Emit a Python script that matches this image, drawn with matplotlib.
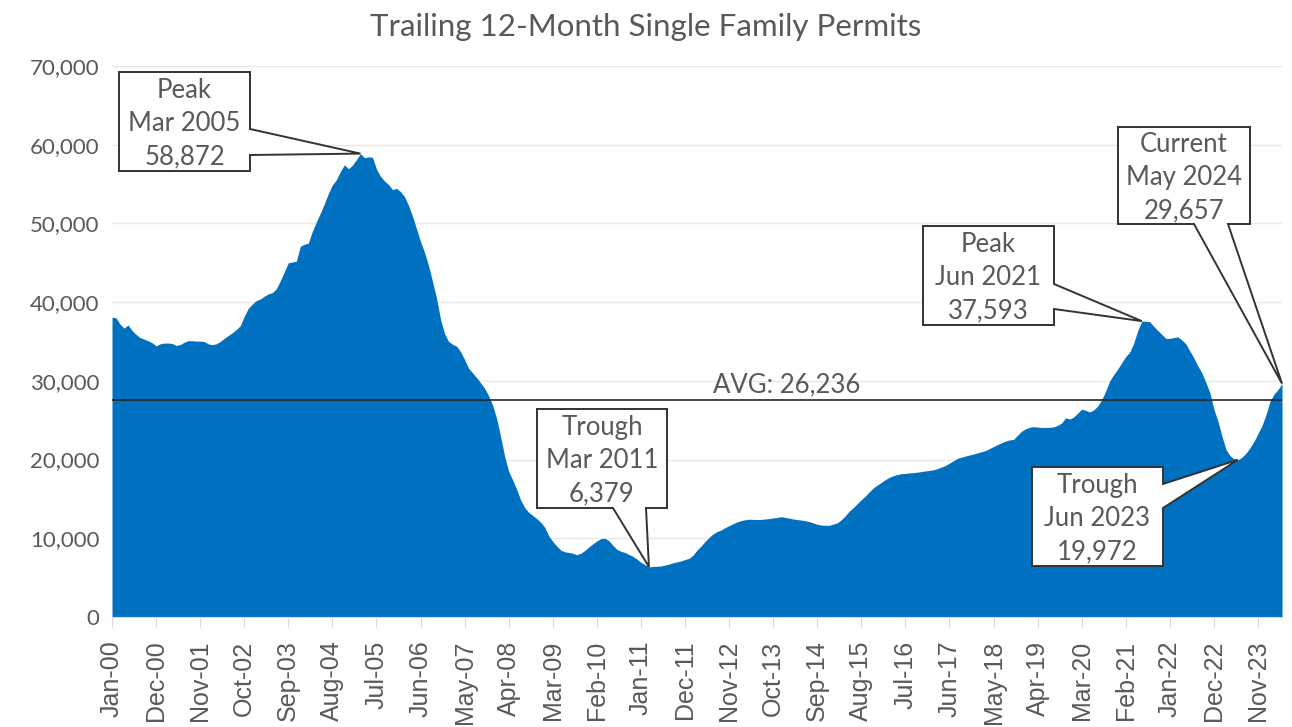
import numpy as np
import pandas as pd
import matplotlib
matplotlib.use("Agg")
import matplotlib.pyplot as plt
from matplotlib.patches import Polygon
from matplotlib.transforms import IdentityTransform
from matplotlib.ticker import FuncFormatter

# Monthly trailing 12-month single family permits, Jan 2000 - May 2024
months = pd.date_range("2000-01-01", "2024-05-01", freq="MS")
permits = [
    38100, 38000, 37200, 36700, 37100, 36400, 35900, 35500, 35300, 35100, 34850, 34450,  # 2000
    34700, 34800, 34800, 34750, 34500, 34600, 34900, 35100, 35100, 35050, 35050, 35000,  # 2001
    34700, 34600, 34700, 35000, 35400, 35750, 36100, 36500, 37000, 38200, 39200, 39750,  # 2002
    40200, 40400, 40750, 41050, 41200, 41700, 42700, 43850, 45000, 45100, 45200, 47100,  # 2003
    47350, 47500, 49000, 50200, 51300, 52500, 53800, 54900, 55550, 56600, 57450, 56950,  # 2004
    57400, 58100, 58872, 58350, 58450, 58400, 56900, 56000, 55400, 54950, 54300, 54450,  # 2005
    54050, 53400, 52300, 50900, 49300, 47700, 46300, 44650, 42600, 40500, 37800, 36000,  # 2006
    35000, 34650, 34400, 33700, 32700, 31600, 31000, 30400, 29750, 29050, 28100, 26900,  # 2007
    25200, 22900, 20400, 18500, 17400, 16200, 14850, 13900, 13300, 12900, 12500, 12030,  # 2008
    11400, 10300, 9600, 9000, 8500, 8280, 8200, 8100, 7900, 8100, 8450, 8900,  # 2009
    9300, 9650, 9950, 10000, 9700, 9100, 8600, 8350, 8200, 7950, 7700, 7350,  # 2010
    6950, 6650, 6379, 6420, 6450, 6480, 6600, 6720, 6880, 7000, 7120, 7300,  # 2011
    7450, 7850, 8500, 9000, 9600, 10100, 10550, 10850, 11050, 11350, 11600, 11850,  # 2012
    12080, 12250, 12350, 12420, 12400, 12380, 12400, 12450, 12500, 12580, 12650, 12740,  # 2013
    12650, 12560, 12450, 12380, 12320, 12230, 12120, 11950, 11780, 11680, 11650, 11640,  # 2014
    11800, 11950, 12350, 12850, 13450, 13900, 14400, 14900, 15350, 15900, 16400, 16750,  # 2015
    17100, 17450, 17750, 17950, 18100, 18200, 18250, 18300, 18350, 18400, 18480, 18550,  # 2016
    18620, 18700, 18850, 19050, 19250, 19550, 19850, 20150, 20300, 20450, 20580, 20700,  # 2017
    20850, 21000, 21150, 21400, 21650, 21900, 22140, 22350, 22500, 22560, 23100, 23600,  # 2018
    23900, 24100, 24180, 24120, 24080, 24080, 24100, 24150, 24350, 24650, 25300, 25150,  # 2019
    25400, 25900, 26400, 26250, 26050, 26300, 26800, 27600, 28700, 30000, 30800, 31500,  # 2020
    32300, 33100, 33650, 34800, 36400, 37593, 37560, 37530, 36900, 36400, 35900, 35400,  # 2021
    35400, 35500, 35580, 35200, 34700, 33800, 32900, 31900, 31000, 29800, 28500, 26400,  # 2022
    24900, 23000, 21300, 20500, 20100, 19972, 20300, 20800, 21500, 22300, 23300, 24300,  # 2023
    25700, 27400, 28300, 28900, 29657,  # 2024
]

avg_level = 27600
avg_label = "AVG: 26,236"
tick_step = 11

# callouts: (kind, month, box left/top/right/bottom in px, side, wedge base a, b)
callouts = [
    ("Peak", "2005-03", (119, 72, 250, 171), "right", 129, 155),
    ("Trough", "2011-03", (537, 409, 667, 508), "bottom", 613, 646),
    ("Peak", "2021-06", (923, 226, 1054, 325), "right", 284, 309),
    ("Current", "2024-05", (1118, 127, 1250, 224), "bottom", 1194, 1228),
    ("Trough", "2023-06", (1032, 467, 1163, 566), "right", 484, 508),
]

W, H = 1292, 727
GRAY = "#595959"
x = np.arange(len(months))

fig = plt.figure(figsize=(W / 100, H / 100), dpi=100)
ax = fig.add_axes([112 / W, 1 - 617 / H, (1282 - 112) / W, (617 - 66) / H])

ax.fill_between(x, permits, color="#0070C0", lw=0, zorder=2)
ax.set_xlim(0, len(x) - 1)
ax.set_ylim(0, 70000)
ax.set_yticks(np.arange(0, 70001, 10000))
ax.yaxis.set_major_formatter(FuncFormatter(lambda v, p: f"{v:,.0f}"))
ax.grid(axis="y", color="#e8e8e8", lw=1, zorder=0)
ax.set_axisbelow(True)
for s in ["top", "left", "right"]:
    ax.spines[s].set_visible(False)
ax.spines["bottom"].set_color("#d9d9d9")

ax.set_xticks(x[::tick_step])
ax.set_xticklabels(months[::tick_step].strftime("%b-%y"), rotation=90,
                   fontfamily="Liberation Sans", fontsize=18, color=GRAY)
ax.tick_params(axis="x", length=7, color="#d9d9d9", pad=10)
ax.tick_params(axis="y", length=0, pad=9, labelsize=16, labelcolor=GRAY)
for lab in ax.get_yticklabels():
    lab.set_fontfamily("Lato")

ax.axhline(avg_level, color="#262626", lw=1.2, zorder=3)
ax.text((787 - 112) / 1170, avg_level + 250, avg_label, transform=ax.get_yaxis_transform(),
        ha="center", va="bottom", fontsize=18.5, color=GRAY, fontfamily="Lato")

fig.text(0.5, 1 - 27 / H, "Trailing 12-Month Single Family Permits", ha="center", va="center",
         fontsize=22.5, color=GRAY, fontfamily="Lato")

for kind, month, (l, t, r, b), side, wa, wb in callouts:
    i = months.get_loc(pd.Timestamp(month))
    tx, ty = ax.transData.transform((x[i], permits[i]))
    L, R, T, B = l, r, H - t, H - b
    if side == "right":
        pts = [(L, T), (R, T), (R, H - wa), (tx, ty), (R, H - wb), (R, B), (L, B)]
    else:
        pts = [(L, T), (R, T), (R, B), (wb, B), (tx, ty), (wa, B), (L, B)]
    poly = Polygon(pts, closed=True, facecolor="white", edgecolor="#333333", lw=1.4,
                   transform=IdentityTransform(), zorder=5)
    fig.add_artist(poly)
    label = f"{kind}\n{months[i].strftime('%b %Y')}\n{permits[i]:,}"
    fig.text((L + R) / 2 / W, ((T + B) / 2 - 2) / H, label, ha="center", va="center",
             fontsize=18.5, color=GRAY, fontfamily="Lato", linespacing=1.4, zorder=6)

fig.savefig("out.png", dpi=100)
